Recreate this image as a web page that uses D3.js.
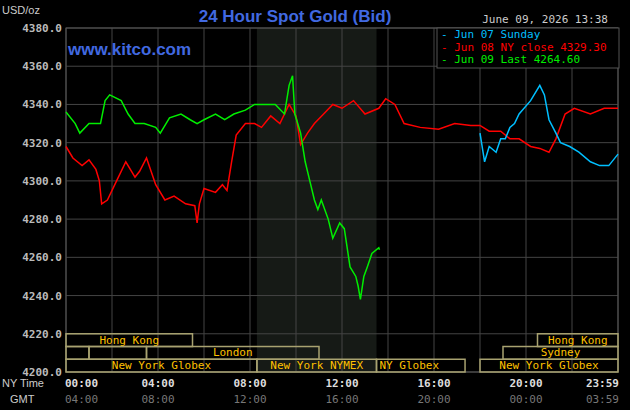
<!DOCTYPE html>
<html><head><meta charset="utf-8">
<script src="https://cdn.jsdelivr.net/npm/d3@7"></script>
<style>body{margin:0;background:#000}svg{display:block}</style></head>
<body><svg id="c" width="630" height="410"></svg>
<script>
const yTicks=[4200,4220,4240,4260,4280,4300,4320,4340,4360,4380];
const nyTimes=["00:00","04:00","08:00","12:00","16:00","20:00","23:59"];
const gmtTimes=["04:00","08:00","12:00","16:00","20:00","00:00","03:59"];
const tickHours=[0,4,8,12,16,20,24];
// [hour, price]
const jun08=[[0,4318],[0.3,4312],[0.7,4308],[1.0,4311],[1.3,4306],[1.45,4300],[1.55,4288],[1.8,4290],[2.2,4300],[2.6,4310],[3.0,4302],[3.2,4305],[3.5,4312],[3.9,4298],[4.3,4290],[4.7,4292],[5.2,4288],[5.6,4287],[5.7,4278],[5.8,4288],[6.0,4296],[6.5,4294],[6.8,4298],[7.0,4295],[7.2,4310],[7.4,4324],[7.8,4330],[8.2,4330],[8.5,4328],[8.9,4334],[9.3,4330],[9.7,4340],[10.0,4334],[10.2,4319],[10.5,4325],[10.8,4330],[11.2,4335],[11.6,4340],[12.0,4338],[12.5,4342],[13.0,4335],[13.6,4338],[13.9,4343],[14.3,4340],[14.7,4330],[15.4,4328],[16.2,4327],[16.9,4330],[17.6,4329],[18.0,4329],[18.4,4326],[18.9,4326],[19.3,4322],[19.7,4322],[20.2,4318],[20.6,4317],[21.0,4315],[21.3,4322],[21.7,4335],[22.1,4338],[22.8,4335],[23.4,4338],[24,4338]];
const jun09=[[0,4336],[0.4,4330],[0.6,4325],[1.0,4330],[1.5,4330],[1.7,4342],[1.9,4345],[2.4,4342],[2.7,4335],[3.0,4330],[3.4,4330],[3.9,4328],[4.1,4325],[4.5,4333],[5.0,4335],[5.4,4332],[5.7,4330],[6.0,4332],[6.5,4335],[6.9,4332],[7.3,4335],[7.8,4337],[8.2,4340],[8.7,4340],[9.1,4340],[9.5,4335],[9.7,4350],[9.85,4355],[9.95,4335],[10.2,4325],[10.4,4310],[10.6,4300],[10.8,4290],[10.95,4285],[11.1,4290],[11.4,4280],[11.6,4270],[11.9,4278],[12.1,4275],[12.35,4255],[12.6,4250],[12.7,4245],[12.8,4238],[12.95,4250],[13.1,4255],[13.3,4262],[13.6,4265],[13.63,4264]];
const jun07=[[18.0,4325],[18.2,4310],[18.4,4318],[18.7,4315],[18.9,4322],[19.1,4322],[19.3,4328],[19.5,4330],[19.7,4335],[20.2,4342],[20.6,4350],[20.8,4345],[21.0,4332],[21.3,4325],[21.5,4320],[21.9,4318],[22.3,4315],[22.8,4310],[23.2,4308],[23.6,4308],[24,4314]];
const sessions=[
 {row:0,a:0,b:5.5,label:"Hong Kong"},{row:0,a:20.5,b:24,label:"Hong Kong"},
 {row:1,a:0,b:1,label:""},{row:1,a:1,b:3.5,label:""},{row:1,a:3.5,b:11,label:"London"},{row:1,a:19,b:24,label:"Sydney"},
 {row:2,a:0,b:8.3,label:"New York Globex"},{row:2,a:8.3,b:13.5,label:"New York NYMEX"},{row:2,a:13.5,b:17.35,label:"NY Globex",left:true},{row:2,a:18,b:24,label:"New York Globex"}];

const svg=d3.select("#c");
const L=66,R=618,T=28,B=372;
const x=d3.scaleLinear().domain([0,24]).range([L,R]);
const y=d3.scaleLinear().domain([4200,4380]).range([B,T]);
svg.append("rect").attr("width",630).attr("height",410).attr("fill","#000");
svg.append("rect").attr("x",x(8.3)).attr("y",T).attr("width",x(13.5)-x(8.3)).attr("height",B-T).attr("fill","#161a16");
const g=svg.append("g");
d3.range(0,25,2).forEach(h=>g.append("line").attr("x1",x(h)).attr("x2",x(h)).attr("y1",T).attr("y2",B).attr("stroke","#444"));
yTicks.forEach(v=>g.append("line").attr("x1",L).attr("x2",R).attr("y1",y(v)).attr("y2",y(v)).attr("stroke","#444"));
g.append("rect").attr("x",L).attr("y",T).attr("width",R-L).attr("height",B-T).attr("fill","none").attr("stroke","#555");
const mono="DejaVu Sans Mono, monospace";
yTicks.forEach(v=>svg.append("text").attr("x",62).attr("y",y(v)+4).attr("text-anchor","end").attr("font-family",mono).attr("font-weight","bold").attr("font-size",11).attr("fill","#bbb").text(v.toFixed(1)));
tickHours.forEach((h,i)=>{
 const anc=i==0?"start":(i==6?"end":"middle");
 const xx=i==0?x(h)-1:(i==6?x(h)+1:x(h));
 svg.append("text").attr("x",xx).attr("y",387).attr("text-anchor",anc).attr("font-family",mono).attr("font-weight","bold").attr("font-size",11).attr("fill","#ddd").text(nyTimes[i]);
 svg.append("text").attr("x",xx).attr("y",403).attr("text-anchor",anc).attr("font-family",mono).attr("font-size",11).attr("fill","#777").text(gmtTimes[i]);
});
svg.append("text").attr("x",2).attr("y",387).attr("font-family","Liberation Sans Narrow, Arial Narrow, sans-serif").attr("font-size",11).attr("fill","#ccc").text("NY Time");
svg.append("text").attr("x",10).attr("y",403).attr("font-family","Liberation Sans Narrow, Arial Narrow, sans-serif").attr("font-size",11).attr("fill","#ccc").text("GMT");
// sessions
const rowH=(B-y(4220))/3;
sessions.forEach(s=>{
 const yy=y(4220)+s.row*rowH;
 svg.append("rect").attr("x",x(s.a)).attr("y",yy).attr("width",x(s.b)-x(s.a)).attr("height",rowH).attr("fill","none").attr("stroke","#a8a270").attr("stroke-width",1.5);
 if(s.label) svg.append("text").attr("x",s.left?x(s.a)+3:(x(s.a)+x(s.b))/2).attr("y",yy+rowH-3).attr("text-anchor",s.left?"start":"middle").attr("font-family",mono).attr("font-size",11).attr("fill","#ffc000").text(s.label);
});
const line=d3.line().x(d=>x(d[0])).y(d=>y(d[1]));
[[jun08,"#ff0000"],[jun07,"#00bfff"],[jun09,"#00ee00"]].forEach(([d,c])=>svg.append("path").datum(d).attr("d",line).attr("fill","none").attr("stroke",c).attr("stroke-width",1.5));
// titles
svg.append("text").attr("x",295).attr("y",22).attr("text-anchor","middle").attr("font-family","Liberation Sans, Arial, sans-serif").attr("font-weight","bold").attr("font-size",17).attr("fill","#4169e1").text("24 Hour Spot Gold (Bid)");
svg.append("text").attr("x",68).attr("y",55).attr("font-family","Liberation Sans, Arial, sans-serif").attr("font-weight","bold").attr("font-size",17).attr("fill","#4169e1").text("www.kitco.com");
svg.append("text").attr("x",2).attr("y",14).attr("font-family","Liberation Sans Narrow, Arial Narrow, sans-serif").attr("font-size",11).attr("fill","#ccc").text("USD/oz");
svg.append("text").attr("x",608).attr("y",23).attr("text-anchor","end").attr("font-family",mono).attr("font-size",11).attr("fill","#ccc").text("June 09, 2026 13:38");
svg.append("rect").attr("x",437).attr("y",28).attr("width",182).attr("height",40).attr("fill","#000").attr("stroke","#555");
[["- Jun 07 Sunday","#00bfff"],["- Jun 08 NY close 4329.30","#ff0000"],["- Jun 09 Last 4264.60","#00ee00"]].forEach((t,i)=>
 svg.append("text").attr("x",441).attr("y",38+i*12.5).attr("font-family",mono).attr("font-size",11).attr("fill",t[1]).text(t[0]));
</script></body></html>
